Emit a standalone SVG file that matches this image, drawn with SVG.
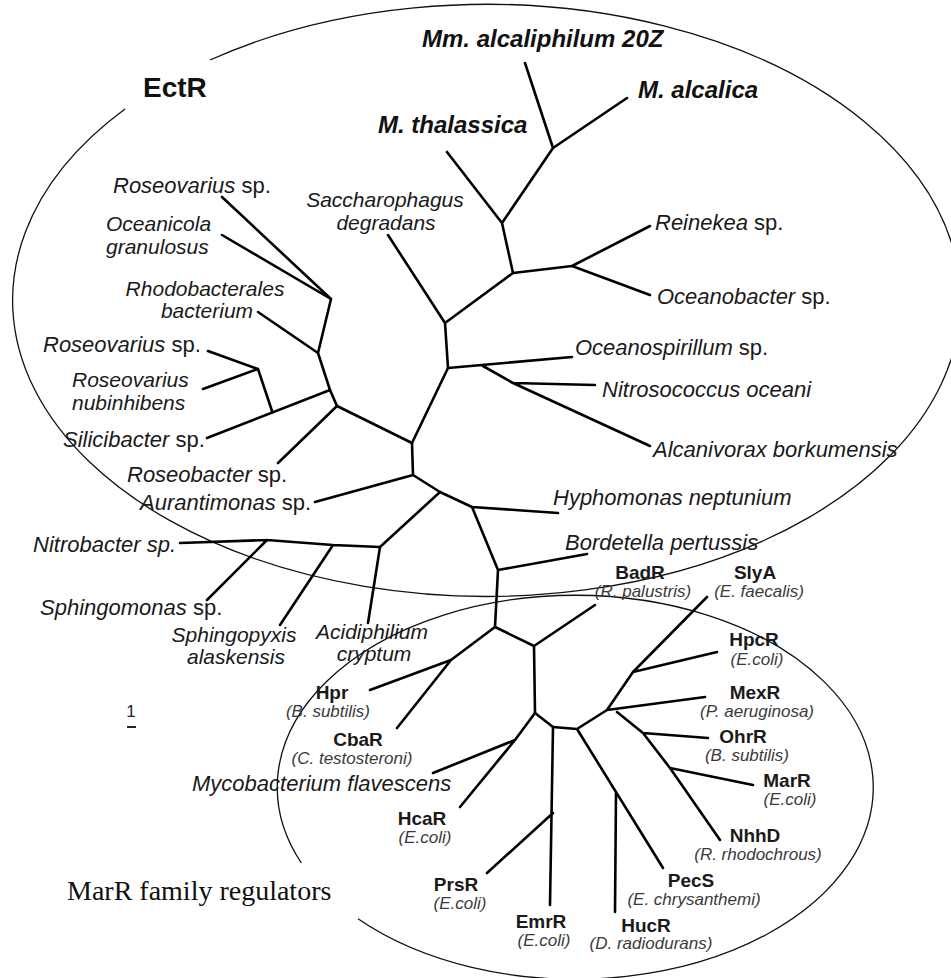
<svg xmlns="http://www.w3.org/2000/svg" width="951" height="978" viewBox="0 0 951 978">
<style>
.br{fill:none;stroke:#000;stroke-width:2.6;stroke-linecap:round;stroke-linejoin:round}
.ell{fill:none;stroke:#111;stroke-width:1.3}
.sp{font-family:"Liberation Sans",Arial,sans-serif;font-size:22px;font-style:italic;fill:#1a1a1a}
.sp2{font-family:"Liberation Sans",Arial,sans-serif;font-size:21px;font-style:italic;fill:#1a1a1a}
.up{font-style:normal}
.mb{font-family:"Liberation Sans",Arial,sans-serif;font-size:24px;font-style:italic;font-weight:bold;fill:#111}
.lb{font-family:"Liberation Sans",Arial,sans-serif;text-anchor:middle}
.nm{font-size:19px;font-weight:bold;fill:#1a1a1a}
.org{font-size:17px;font-style:italic;fill:#3a3a3a}
</style>
<rect width="951" height="978" fill="#fff"/>
<g id="clusters">
<path id="ectr-ellipse" class="ell" d="M125,109 A474,296 0 1 0 210,60"/>
<path id="marr-ellipse" class="ell" d="M358,918.7 A298,192 0 1 0 301.4,863"/>
</g>
<g id="connectors">
<path class="br" d="M222,197 L331,299 M222,235 L331,299 M331,299 L318,353 M258,312 L318,353 M318,353 L330,390 L337,406"/>
<path class="br" d="M330,390 L207,438 M258,369 L272,411 M258,369 L208,351 M258,369 L203,389"/>
<path class="br" d="M337,406 L278,463 M337,406 L412,443 L448,368 L445,323 M445,323 L388,235 M445,323 L513,273 L502,223 M502,223 L447,152 M502,223 L553,148 M553,148 L525,63 M553,148 L627,98"/>
<path class="br" d="M513,273 L572,266 M572,266 L650,226 M572,266 L650,295"/>
<path class="br" d="M448,368 L572,357 M483,366 L513,383 M513,383 L595,385 M513,383 L650,446"/>
<path class="br" d="M412,443 L413,475 M413,475 L315,502 M413,475 L440,492 L472,507 M440,492 L380,547"/>
<path class="br" d="M380,547 L333,545 L267,540 L180,543 M267,540 L207,600 M333,545 L280,625 M380,547 L368,623"/>
<path class="br" d="M472,507 L558,513 M472,507 L498,570 M498,570 L587,554 M498,570 L495,627"/>
<path class="br" d="M495,627 L451,660 M451,660 L370,690 M451,660 L397,728 M495,627 L534,646 M534,646 L595,605 M534,646 L535,713"/>
<path class="br" d="M535,713 L515,740 M515,740 L433,773 M515,740 L460,807 M535,713 L553,727 L550,905 M553,813 L487,873"/>
<path class="br" d="M553,727 L577,729 L663,868 M616,793 L615,912 M577,729 L607,710 L705,697 M607,710 L633,672 L707,597 M633,672 L717,652"/>
<path class="br" d="M617,712 L643,733 L670,768 L720,840 M643,733 L708,738 M670,768 L753,785"/>
</g>
<g id="n-ectr"><text x="143" y="97" font-family="Liberation Sans,Arial,sans-serif" font-size="28" font-weight="bold" fill="#111">EctR</text></g>
<g id="n-mm20z"><text class="mb" x="422" y="47">Mm. alcaliphilum 20Z</text></g>
<g id="n-mthal"><text class="mb" x="378" y="133">M. thalassica</text></g>
<g id="n-malc"><text class="mb" x="638" y="98">M. alcalica</text></g>
<g id="n-rose1"><text class="sp" x="113" y="193">Roseovarius<tspan class="up"> sp.</tspan></text></g>
<g id="n-ocean"><text class="sp2" x="106" y="231">Oceanicola<tspan x="106" dy="23">granulosus</tspan></text></g>
<g id="n-rhodo"><text class="sp2" x="205" y="296" text-anchor="middle">Rhodobacterales<tspan x="207" dy="22">bacterium</tspan></text></g>
<g id="n-rose2"><text class="sp" x="43" y="352">Roseovarius<tspan class="up"> sp.</tspan></text></g>
<g id="n-rnub"><text class="sp2" x="72" y="387">Roseovarius<tspan x="72" dy="23">nubinhibens</tspan></text></g>
<g id="n-silic"><text class="sp" x="63" y="447">Silicibacter<tspan class="up"> sp.</tspan></text></g>
<g id="n-roseob"><text class="sp" x="127" y="482">Roseobacter<tspan class="up"> sp.</tspan></text></g>
<g id="n-auran"><text class="sp" x="140" y="510">Aurantimonas<tspan class="up"> sp.</tspan></text></g>
<g id="n-nitrob"><text class="sp" x="33" y="552">Nitrobacter sp.</text></g>
<g id="n-sphm"><text class="sp" x="40" y="615">Sphingomonas<tspan class="up"> sp.</tspan></text></g>
<g id="n-sphx"><text class="sp2" x="234" y="642" text-anchor="middle">Sphingopyxis<tspan x="236" dy="22">alaskensis</tspan></text></g>
<g id="n-acid"><text class="sp2" x="372" y="639" text-anchor="middle">Acidiphilium<tspan x="374" dy="22">cryptum</tspan></text></g>
<g id="n-sacch"><text class="sp2" x="385" y="207" text-anchor="middle">Saccharophagus<tspan x="386" dy="23">degradans</tspan></text></g>
<g id="n-reine"><text class="sp" x="655" y="230">Reinekea<tspan class="up"> sp.</tspan></text></g>
<g id="n-oceanob"><text class="sp" x="657" y="304">Oceanobacter<tspan class="up"> sp.</tspan></text></g>
<g id="n-oceanosp"><text class="sp" x="575" y="355">Oceanospirillum<tspan class="up"> sp.</tspan></text></g>
<g id="n-nitros"><text class="sp" x="602" y="397">Nitrosococcus oceani</text></g>
<g id="n-alcan"><text class="sp" x="653" y="457">Alcanivorax borkumensis</text></g>
<g id="n-hypho"><text class="sp" x="553" y="505">Hyphomonas neptunium</text></g>
<g id="n-borde"><text class="sp" x="565" y="550">Bordetella pertussis</text></g>
<g id="n-myco"><text class="sp" x="192" y="791">Mycobacterium flavescens</text></g>
<g id="n-badr"><text class="lb" x="640" y="579"><tspan class="nm">BadR</tspan><tspan class="org" x="643" dy="18">(R. palustris)</tspan></text></g>
<g id="n-slya"><text class="lb" x="755" y="579"><tspan class="nm">SlyA</tspan><tspan class="org" x="759" dy="18">(E. faecalis)</tspan></text></g>
<g id="n-hpcr"><text class="lb" x="754" y="646"><tspan class="nm">HpcR</tspan><tspan class="org" x="757" dy="19">(E.coli)</tspan></text></g>
<g id="n-mexr"><text class="lb" x="755" y="699"><tspan class="nm">MexR</tspan><tspan class="org" x="757" dy="18">(P. aeruginosa)</tspan></text></g>
<g id="n-ohrr"><text class="lb" x="743" y="743"><tspan class="nm">OhrR</tspan><tspan class="org" x="747" dy="18">(B. subtilis)</tspan></text></g>
<g id="n-marr"><text class="lb" x="787" y="787"><tspan class="nm">MarR</tspan><tspan class="org" x="790" dy="18">(E.coli)</tspan></text></g>
<g id="n-nhhd"><text class="lb" x="755" y="842"><tspan class="nm">NhhD</tspan><tspan class="org" x="758" dy="18">(R. rhodochrous)</tspan></text></g>
<g id="n-pecs"><text class="lb" x="691" y="887"><tspan class="nm">PecS</tspan><tspan class="org" x="694" dy="18">(E. chrysanthemi)</tspan></text></g>
<g id="n-emrr"><text class="lb" x="541" y="928"><tspan class="nm">EmrR</tspan><tspan class="org" x="544" dy="18">(E.coli)</tspan></text></g>
<g id="n-hucr"><text class="lb" x="646" y="932"><tspan class="nm">HucR</tspan><tspan class="org" x="651" dy="17">(D. radiodurans)</tspan></text></g>
<g id="n-hpr"><text class="lb" x="332" y="699"><tspan class="nm">Hpr</tspan><tspan class="org" x="328" dy="18">(B. subtilis)</tspan></text></g>
<g id="n-cbar"><text class="lb" x="358" y="746"><tspan class="nm">CbaR</tspan><tspan class="org" x="352" dy="18">(C. testosteroni)</tspan></text></g>
<g id="n-hcar"><text class="lb" x="422" y="825"><tspan class="nm">HcaR</tspan><tspan class="org" x="425" dy="18">(E.coli)</tspan></text></g>
<g id="n-prsr"><text class="lb" x="456" y="891"><tspan class="nm">PrsR</tspan><tspan class="org" x="460" dy="18">(E.coli)</tspan></text></g>
<g id="scale"><text x="131" y="717" font-family="Liberation Sans,Arial,sans-serif" font-size="17" fill="#222" text-anchor="middle">1</text><line x1="127" y1="727" x2="136" y2="727" stroke="#222" stroke-width="2"/></g>
<g id="marr-label"><text x="67" y="900" font-family="Liberation Serif,Times New Roman,serif" font-size="28" fill="#111">MarR family regulators</text></g>
</svg>
